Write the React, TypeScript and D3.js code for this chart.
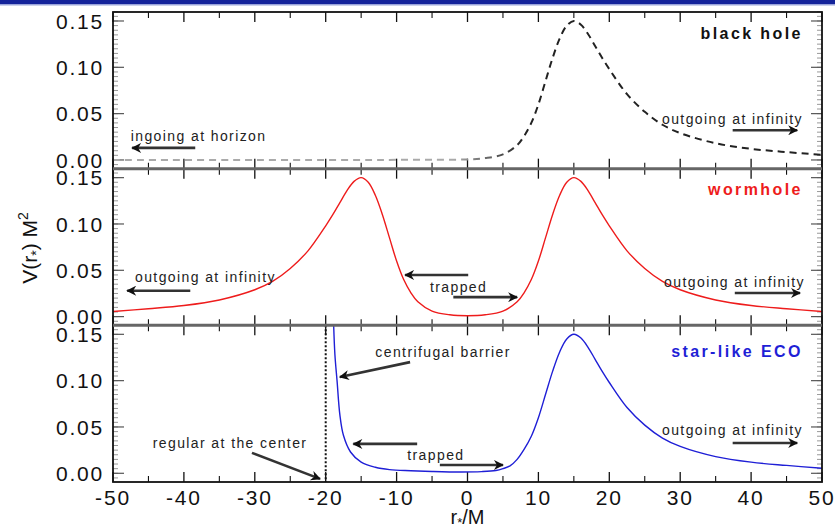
import React from "react";
import * as d3 from "d3";

const W = 835;
const H = 529;
const left = 113;
const right = 822;
const top = 12;
const bottom = 482;
const panelH = (bottom - top) / 3;

// r*/M positions and V(r*) M^2 values
const bhR = [-50, -30, -15, -10, -5, 0, 2.5, 5, 7, 8, 9, 10, 11, 12, 13, 14, 15, 16, 17, 18, 19, 20, 22.5, 25, 27.5, 30, 35, 40, 45, 50];
const bhV = [0, 0, 0, 0.0001, 0.0003, 0.0006, 0.002, 0.006, 0.016, 0.026, 0.04, 0.06, 0.085, 0.11, 0.131, 0.145, 0.15, 0.146, 0.136, 0.123, 0.11, 0.098, 0.071, 0.052, 0.038, 0.029, 0.018, 0.012, 0.0085, 0.0055];

const whR = [-50, -45, -40, -35, -30, -27.5, -25, -22.5, -20, -19, -18, -17, -16, -15, -14, -13, -12, -11, -10, -9, -8, -7, -5, -2.5, 0, 2.5, 5, 7, 8, 9, 10, 11, 12, 13, 14, 15, 16, 17, 18, 19, 20, 22.5, 25, 27.5, 30, 35, 40, 45, 50];
const whV = [0.0055, 0.0085, 0.012, 0.018, 0.029, 0.038, 0.052, 0.071, 0.098, 0.11, 0.123, 0.136, 0.146, 0.15, 0.145, 0.131, 0.11, 0.085, 0.06, 0.04, 0.026, 0.016, 0.006, 0.002, 0.001, 0.002, 0.006, 0.016, 0.026, 0.04, 0.06, 0.085, 0.11, 0.131, 0.145, 0.15, 0.146, 0.136, 0.123, 0.11, 0.098, 0.071, 0.052, 0.038, 0.029, 0.018, 0.012, 0.0085, 0.0055];

const ecoR = [-18.9, -18.7, -18.4, -18, -17.5, -16.5, -15, -13, -11, -8, -5, -1, 2, 4, 5, 6, 7, 8, 9, 10, 11, 12, 13, 14, 15, 16, 17, 18, 19, 20, 22.5, 25, 27.5, 30, 35, 40, 45, 50];
const ecoV = [0.165, 0.128, 0.1, 0.063, 0.041, 0.023, 0.012, 0.0065, 0.004, 0.0028, 0.002, 0.0014, 0.0018, 0.003, 0.005, 0.008, 0.015, 0.026, 0.04, 0.06, 0.085, 0.11, 0.131, 0.145, 0.15, 0.146, 0.136, 0.123, 0.11, 0.098, 0.071, 0.052, 0.038, 0.029, 0.018, 0.012, 0.0085, 0.0055];

const panelNames = ["black hole", "wormhole", "star-like ECO"];
const panelColors = ["#111", "#ee1c1c", "#1f1fd6"];
const nameV = [0.137, 0.138, 0.132];

const xMajor = d3.range(-50, 51, 10);
const xMinor = d3.range(-45, 50, 10);
const yMajor = [0, 0.05, 0.1, 0.15];
const yMinor = d3.range(-0.005, 0.1601, 0.005);

// annotation texts: panel, text, r*, V, anchor
const notes = [
  { p: 0, t: "ingoing at horizon", r: -47.5, v: 0.026, a: "start" },
  { p: 0, t: "outgoing at infinity", r: 47.3, v: 0.044, a: "end" },
  { p: 1, t: "outgoing at infinity", r: -46.9, v: 0.043, a: "start" },
  { p: 1, t: "outgoing at infinity", r: 47.6, v: 0.037, a: "end" },
  { p: 1, t: "trapped", r: -5.3, v: 0.032, a: "start" },
  { p: 2, t: "centrifugal barrier", r: -13.0, v: 0.131, a: "start" },
  { p: 2, t: "trapped", r: -8.5, v: 0.02, a: "start" },
  { p: 2, t: "regular at the center", r: -44.4, v: 0.033, a: "start" },
  { p: 2, t: "outgoing at infinity", r: 47.3, v: 0.047, a: "end" },
];

// arrows: panel, from (r1, v1) to (r2, v2)
const arrows = [
  { p: 0, r1: -38.4, v1: 0.013, r2: -47.3, v2: 0.013 },
  { p: 0, r1: 37.4, v1: 0.032, r2: 46.5, v2: 0.032 },
  { p: 1, r1: -39.1, v1: 0.028, r2: -48.0, v2: 0.028 },
  { p: 1, r1: 37.7, v1: 0.0255, r2: 46.9, v2: 0.0255 },
  { p: 1, r1: 0.1, v1: 0.045, r2: -8.8, v2: 0.045 },
  { p: 1, r1: -2.0, v1: 0.021, r2: 7.0, v2: 0.021 },
  { p: 2, r1: -8.1, v1: 0.12, r2: -18.0, v2: 0.104 },
  { p: 2, r1: -7.1, v1: 0.0317, r2: -16.1, v2: 0.0317 },
  { p: 2, r1: -3.9, v1: 0.009, r2: 5.0, v2: 0.009 },
  { p: 2, r1: -30.4, v1: 0.022, r2: -20.8, v2: -0.006 },
  { p: 2, r1: 37.4, v1: 0.0327, r2: 46.5, v2: 0.0327 },
];

const App = () => {
  const x = d3.scaleLinear().domain([-50, 50]).range([left, right]);
  const yOf = (i: number) =>
    d3
      .scaleLinear()
      .domain([-0.0094, 0.1597])
      .range([top + (i + 1) * panelH, top + i * panelH]);

  const series = [
    { r: bhR, v: bhV },
    { r: whR, v: whV },
    { r: ecoR, v: ecoV },
  ];

  const font = "'Liberation Sans', Arial, Helvetica, sans-serif";

  return (
    <svg
      width={W}
      height={H}
      style={{ position: "absolute", left: 0, top: 0, background: "#fff" }}
      fontFamily={font}
    >
      <defs>
        <linearGradient id="bhGrad" gradientUnits="userSpaceOnUse" x1={x(-2)} x2={x(8)} y1={0} y2={0}>
          <stop offset="0" stopColor="#aaa" />
          <stop offset="1" stopColor="#222" />
        </linearGradient>
        <marker id="head" viewBox="0 0 10 10" refX="9" refY="5" markerWidth="12" markerHeight="10" markerUnits="userSpaceOnUse" orient="auto">
          <path d="M0,0 L10,5 L0,10 L3,5 Z" fill="#111" />
        </marker>
        {[0, 1, 2].map((i) => (
          <clipPath id={`clip${i}`} key={i}>
            <rect x={left} y={top + i * panelH} width={right - left} height={panelH} />
          </clipPath>
        ))}
      </defs>

      {/* top banner */}
      <rect x={0} y={0} width={W} height={4} fill="#14239a" />
      <rect x={0} y={4} width={W} height={1.5} fill="#9aa4da" />

      {series.map((s, i) => {
        const y = yOf(i);
        const line = d3
          .line<number>()
          .x((d, j) => x(s.r[j]))
          .y((d) => y(d))
          .curve(d3.curveCatmullRom.alpha(0.5));
        const y0 = top + i * panelH;
        const y1 = y0 + panelH;
        return (
          <g key={i}>
            {/* y ticks left & right */}
            {yMinor.map((t, k) => (
              <g key={"m" + k} stroke="#999" strokeWidth={1}>
                <line x1={left} x2={left + 5} y1={y(t)} y2={y(t)} />
                <line x1={right} x2={right - 5} y1={y(t)} y2={y(t)} />
              </g>
            ))}
            {yMajor.map((t, k) => (
              <g key={"M" + k} stroke="#555" strokeWidth={1.2}>
                <line x1={left} x2={left + 11} y1={y(t)} y2={y(t)} />
                <line x1={right} x2={right - 11} y1={y(t)} y2={y(t)} />
              </g>
            ))}
            {yMajor.map((t, k) => (
              <text
                key={"l" + k}
                x={left - 9}
                y={y(t)}
                dy="0.36em"
                textAnchor="end"
                fontSize={21}
                letterSpacing={1.8}
                fill="#111"
              >
                {t.toFixed(2)}
              </text>
            ))}
            {/* x ticks top & bottom */}
            {xMajor.map((t, k) => (
              <g key={"xM" + k} stroke="#111" strokeWidth={1.3}>
                <line x1={x(t)} x2={x(t)} y1={y0} y2={y0 + 10} />
                <line x1={x(t)} x2={x(t)} y1={y1} y2={y1 - 10} />
              </g>
            ))}
            {xMinor.map((t, k) => (
              <g key={"xm" + k} stroke="#111" strokeWidth={1.1}>
                <line x1={x(t)} x2={x(t)} y1={y0} y2={y0 + 6} />
                <line x1={x(t)} x2={x(t)} y1={y1} y2={y1 - 6} />
              </g>
            ))}
            {i === 2 && (
              <line x1={x(-20)} x2={x(-20)} y1={y0} y2={y1} stroke="#111" strokeWidth={2} strokeDasharray="2,2" />
            )}
            <path
              d={line(s.v) || ""}
              fill="none"
              clipPath={`url(#clip${i})`}
              stroke={i === 0 ? "url(#bhGrad)" : panelColors[i]}
              strokeWidth={i === 0 ? 2 : 1.4}
              strokeDasharray={i === 0 ? "7,5" : undefined}
            />
            <text
              x={x(47.3)}
              y={y(nameV[i])}
              dy="0.36em"
              textAnchor="end"
              fontSize={16}
              fontWeight="bold"
              letterSpacing={2.4}
              fill={panelColors[i]}
            >
              {panelNames[i]}
            </text>
          </g>
        );
      })}

      {notes.map((n, k) => (
        <text
          key={"n" + k}
          x={x(n.r)}
          y={yOf(n.p)(n.v)}
          dy="0.36em"
          textAnchor={n.a}
          fontSize={14}
          letterSpacing={1.4}
          fill="#222"
        >
          {n.t}
        </text>
      ))}
      {arrows.map((a, k) => (
        <line
          key={"a" + k}
          x1={x(a.r1)}
          y1={yOf(a.p)(a.v1)}
          x2={x(a.r2)}
          y2={yOf(a.p)(a.v2)}
          stroke="#333"
          strokeWidth={2.6}
          markerEnd="url(#head)"
        />
      ))}

      {/* panel frames */}
      <rect x={left} y={top} width={right - left} height={bottom - top} fill="none" stroke="#111" strokeWidth={1.8} />
      {[1, 2].map((i) => (
        <line key={i} x1={left} x2={right} y1={top + i * panelH} y2={top + i * panelH} stroke="#666" strokeWidth={3} />
      ))}

      {/* x tick labels */}
      {xMajor.map((t, k) => (
        <text key={"xl" + k} x={x(t)} y={505} textAnchor="middle" fontSize={21} letterSpacing={1.8} fill="#111">
          {t}
        </text>
      ))}

      {/* axis titles */}
      <text x={x(0)} y={524} textAnchor="middle" fontSize={20} fill="#111">
        r<tspan dy={3} fontSize={13}>*</tspan>
        <tspan dy={-3}>/M</tspan>
      </text>
      <text transform="translate(37,248) rotate(-90)" textAnchor="middle" fontSize={21} fill="#111">
        V(r<tspan dy={4} fontSize={14}>*</tspan>
        <tspan dy={-4}>) M</tspan>
        <tspan dy={-9} fontSize={14}>2</tspan>
      </text>
    </svg>
  );
};

export default App;
